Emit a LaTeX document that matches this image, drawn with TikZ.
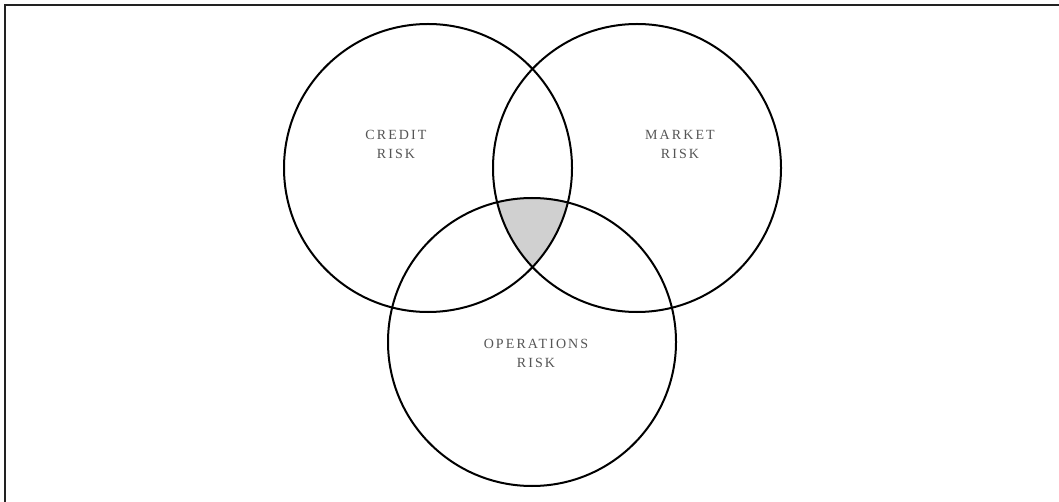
\documentclass[tikz,border=0pt]{standalone}
\usepackage{fontspec}
\setmainfont{Liberation Serif}
\newfontfamily\spaced[LetterSpace=15]{Liberation Serif}
\definecolor{txtgray}{HTML}{555555}
\definecolor{fillgray}{HTML}{D0D0D0}
\definecolor{framegray}{HTML}{222222}
\begin{document}
\begin{tikzpicture}[x=1pt,y=-1pt,
  ring/.style={circle,draw=black,line width=2pt,minimum size=288pt,inner sep=0pt},
  lbl/.style={text=txtgray,font=\spaced\fontsize{14}{19}\selectfont,align=center,inner sep=0pt}]
\useasboundingbox (0,0) rectangle (1059,502);
\fill[white] (0,0) rectangle (1059,502);
% triple intersection
\begin{scope}
  \clip (428,168) circle (144);
  \clip (637,168) circle (144);
  \fill[fillgray] (532,342) circle (144);
\end{scope}
\node[ring] (credit) at (428,168) {};
\node[ring] (market) at (637,168) {};
\node[ring] (ops) at (532,342) {};
\node[lbl] (creditlbl) at (396,144) {CREDIT\\RISK};
\node[lbl] (marketlbl) at (680,144) {MARKET\\RISK};
\node[lbl] (opslbl) at (536,353) {OPERATIONS\\RISK};
\draw[framegray,line width=2pt] (5,502) coordinate (fb) -- (5,5) coordinate (fc) -- (1059,5) coordinate (fr);
\end{tikzpicture}
\end{document}
